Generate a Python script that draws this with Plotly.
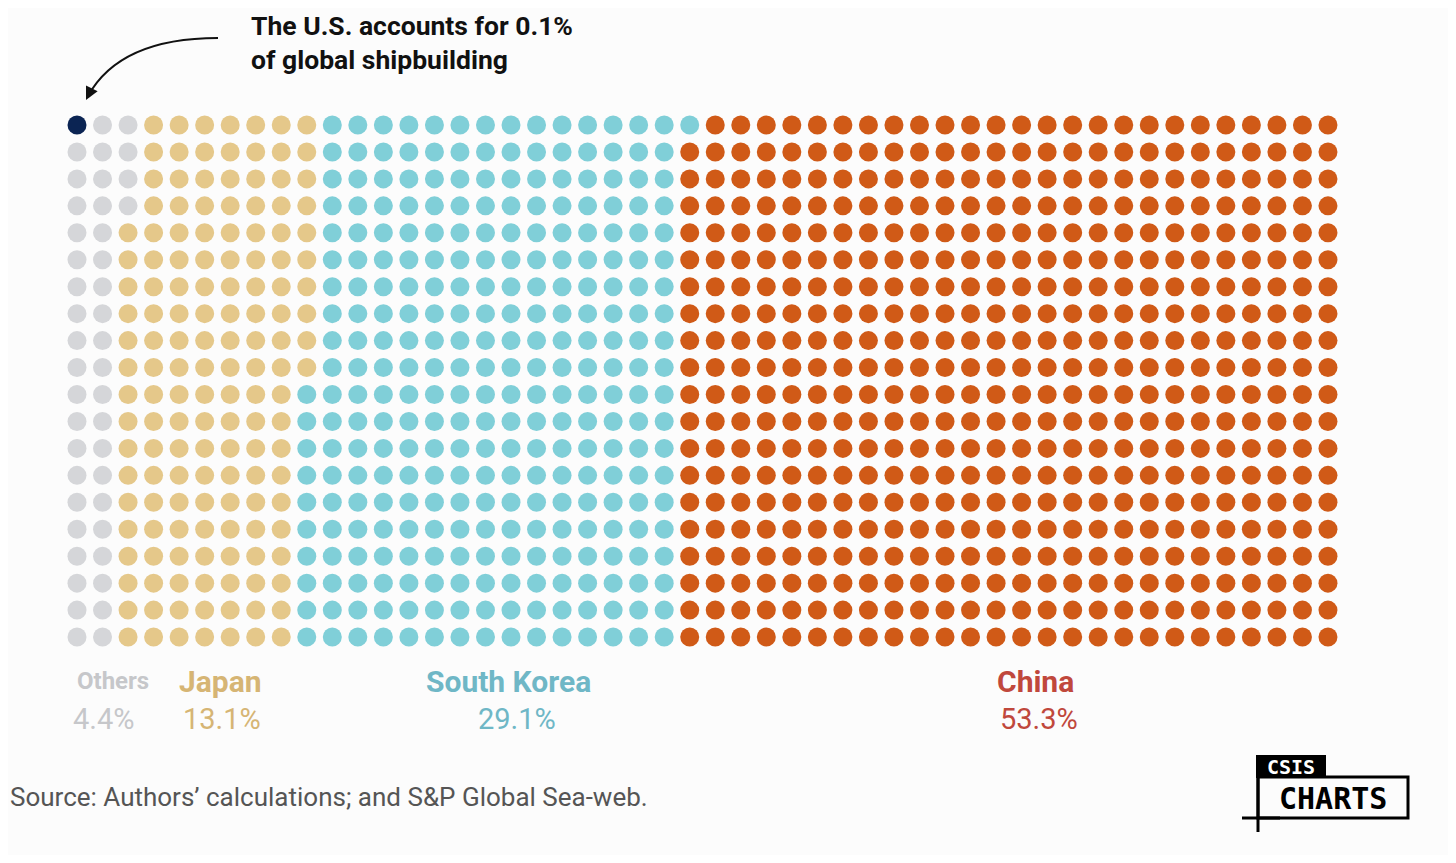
import plotly.graph_objects as go

# --- Dados ---
categories = ["United States", "Others", "Japan", "South Korea", "China"]
dot_counts = [1, 43, 146, 291, 519]
colors = ["#0b2453", "#d5d6d9", "#e5c88a", "#80cfd8", "#d05a17"]

label_names = ["Others", "Japan", "South Korea", "China"]
label_values = ["4.4%", "13.1%", "29.1%", "53.3%"]
label_colors = ["#c6c7ca", "#d6b574", "#6fb7c6", "#c0483c"]

n_rows = 20
n_cols = 50

# --- Conversão pixel (tela) -> coordenadas ---
OFF = 8
X0, DX = 77, 25.53
Y0, DY = 125, 26.95
W, H = 1456 - 2 * OFF, 863 - 2 * OFF
def px(x): return (x - X0) / DX
def py(y): return (y - Y0) / DY

fig = go.Figure()

i = 0
for cat, n, c in zip(categories, dot_counts, colors):
    xs, ys = [], []
    for k in range(n):
        xs.append((i + k) // n_rows)
        ys.append((i + k) % n_rows)
    i += n
    fig.add_trace(go.Scatter(x=xs, y=ys, mode="markers", name=cat,
                             marker=dict(size=19, color=c), hoverinfo="name"))

# rótulos das categorias
label_x = [113, 220, 508, 1035]
value_x = [103, 222, 517, 1039]
for name, val, col, lx, vx in zip(label_names, label_values, label_colors, label_x, value_x):
    big = 24 if name == "Others" else 30
    fig.add_annotation(x=px(lx), y=py(681), text=f"<b>{name}</b>", showarrow=False,
                       font=dict(size=big, color=col, family="Roboto"))
    fig.add_annotation(x=px(vx), y=py(719), text=val, showarrow=False,
                       font=dict(size=29, color=col, family="Roboto"))

# destaque EUA
fig.add_annotation(x=px(249), y=py(42), xanchor="left", align="left",
                   text="<b>The U.S. accounts for 0.1%<br>of global shipbuilding</b>",
                   showarrow=False, font=dict(size=26.5, color="#111", family="Roboto"))
fig.add_shape(type="path",
              path=f"M {px(218)} {py(38)} Q {px(120)} {py(38)} {px(88)} {py(96)}",
              line=dict(color="#111", width=2))
fig.add_annotation(x=px(86), y=py(100), ax=px(92), ay=py(88), xref="x", yref="y",
                   axref="x", ayref="y", text="", showarrow=True, arrowhead=2,
                   arrowsize=1.3, arrowwidth=2, arrowcolor="#111")

# fonte
fig.add_annotation(x=px(OFF), y=py(797), xanchor="left", showarrow=False,
                   text="Source: Authors’ calculations; and S&P Global Sea-web.",
                   font=dict(size=26, color="#555", family="Roboto"))

# logo CSIS CHARTS
fig.add_shape(type="rect", x0=px(1256), x1=px(1326), y0=py(755), y1=py(778),
              fillcolor="#000", line_width=0)
fig.add_shape(type="rect", x0=px(1258), x1=px(1408), y0=py(777), y1=py(818),
              fillcolor="rgba(0,0,0,0)", line=dict(color="#000", width=3))
fig.add_shape(type="line", x0=px(1242), x1=px(1280), y0=py(818), y1=py(818),
              line=dict(color="#000", width=3))
fig.add_shape(type="line", x0=px(1258), x1=px(1258), y0=py(760), y1=py(832),
              line=dict(color="#000", width=3))
fig.add_annotation(x=px(1291), y=py(767), text="<b>CSIS</b>", showarrow=False,
                   font=dict(size=20, color="#fff", family="DejaVu Sans Mono"))
fig.add_annotation(x=px(1333), y=py(798), text="<b>CHARTS</b>", showarrow=False,
                   font=dict(size=30, color="#000", family="DejaVu Sans Mono"))

fig.update_xaxes(range=[px(OFF), px(OFF + W)], visible=False)
fig.update_yaxes(range=[py(OFF + H), py(OFF)], visible=False)
fig.update_layout(width=W, height=H, margin=dict(l=0, r=0, t=0, b=0),
                  paper_bgcolor="#fcfcfc", plot_bgcolor="#fcfcfc", showlegend=False)

fig.write_html("out.html")
